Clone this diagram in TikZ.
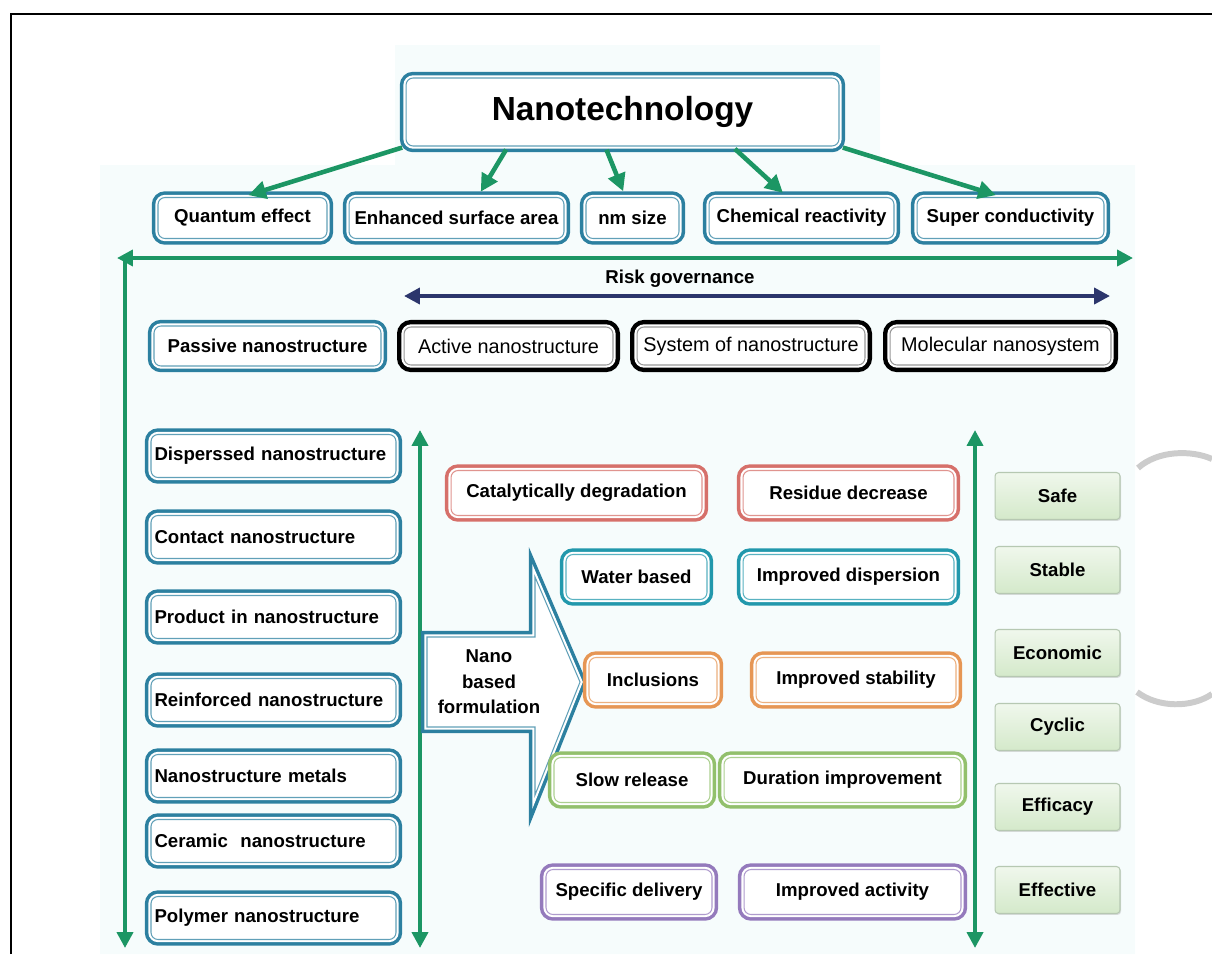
\documentclass[tikz,border=0pt]{standalone}
\usepackage{fontspec}
\setmainfont{Liberation Sans}
\usetikzlibrary{arrows.meta,calc,shadows}

\definecolor{nanoteal}{RGB}{44,128,160}
\definecolor{waterteal}{RGB}{34,152,172}
\definecolor{degred}{RGB}{214,112,106}
\definecolor{stabor}{RGB}{230,150,84}
\definecolor{slowgreen}{RGB}{146,192,108}
\definecolor{actpurple}{RGB}{148,122,188}
\definecolor{arrowgreen}{RGB}{28,150,100}
\definecolor{riskblue}{RGB}{44,54,108}
\definecolor{goodfill}{RGB}{212,233,202}
\definecolor{goodline}{RGB}{182,200,178}
\definecolor{bgtint}{RGB}{246,252,252}

\tikzset{
    dbox/.style={fill=white, draw=#1!75, line width=0.6pt, rounded corners=4pt,
        preaction={draw=#1, line width=7pt},
        preaction={draw=white, line width=3pt},
        inner sep=2pt, font=\bfseries\fontsize{10.6}{12.7}\selectfont},
    bbox/.style={fill=white, draw=gray!80, line width=0.6pt, rounded corners=4pt,
        preaction={draw=black, line width=8pt},
        preaction={draw=white, line width=3pt},
        inner sep=2pt, minimum height=0.76cm, font=\fontsize{11.3}{13}\selectfont},
    prop/.style={dbox=nanoteal, minimum height=0.82cm},
    lbox/.style={dbox=nanoteal, text width=4.76cm, align=left, minimum height=0.86cm},
    mbox/.style={dbox=#1, minimum height=0.9cm},
    goodbox/.style={draw=goodline, line width=0.6pt, rounded corners=2pt,
        top color=white!65!goodfill, bottom color=goodfill,
        drop shadow={opacity=0.25, shadow xshift=0.6pt, shadow yshift=-0.8pt},
        minimum width=2.5cm, minimum height=0.94cm,
        font=\bfseries\fontsize{10.6}{12.7}\selectfont},
    gtip/.tip={Triangle[length=9pt, width=9pt]},
    garrow/.style={draw=arrowgreen, line width=2.6pt, -{Triangle[length=10pt, width=10pt]},
        shorten <=2pt, shorten >=3.5pt},
    gline/.style={draw=arrowgreen, line width=2.2pt},
}

\begin{document}
\begin{tikzpicture}[x=0.02cm, y=-0.02cm]
    \useasboundingbox (0,0) rectangle (1212,954);

    % Frame and backdrop
    \fill[bgtint] (395,45) -- (880,45) -- (880,165) -- (1135,165) -- (1135,954)
        -- (100,954) -- (100,165) -- (395,165) -- cycle;
    \draw[line width=1.2pt] (11,954) -- (11,14) -- (1212,14);

    % Title and properties
    \node[dbox=nanoteal, font=\bfseries\fontsize{19}{22}\selectfont,
        minimum width=8.66cm, minimum height=1.36cm] (nano) at (622.5,112) {Nanotechnology};
    \node[prop, minimum width=3.38cm] (quantum) at (242.5,218) {Quantum effect};
    \node[prop, minimum width=4.3cm] (surface) at (456.5,218) {Enhanced surface area};
    \node[prop, minimum width=1.86cm] (nmsize) at (632.5,218) {nm size};
    \node[prop, minimum width=3.7cm] (chem) at (801.5,218) {Chemical reactivity};
    \node[prop, minimum width=3.74cm] (super) at (1010.5,218) {Super conductivity};

    \draw[garrow] (nano.south west) -- (quantum.north);
    \draw[garrow] ($(nano.south west)!0.236!(nano.south east)$) -- ([xshift=12]surface.north);
    \draw[garrow] ($(nano.south west)!0.46!(nano.south east)$) -- ([xshift=-4]nmsize.north);
    \draw[garrow] ($(nano.south west)!0.753!(nano.south east)$) -- ([xshift=-8]chem.north);
    \draw[garrow] (nano.south east) -- ([xshift=-5]super.north);

    % Green frame arrows
    \coordinate (gleft) at (117,258);
    \coordinate (gcorner) at (125,258);
    \coordinate (gright) at (1133,258);
    \coordinate (gbottom) at (125,948);
    \draw[gline, gtip-gtip] (gleft) -- (gright);
    \draw[gline, -gtip] (gcorner) -- (gbottom);

    % Risk governance
    \node[font=\bfseries\fontsize{10.6}{12.7}\selectfont] (risk) at (680,279) {Risk governance};
    \coordinate (rleft) at (404,296);
    \coordinate (rright) at (1110,296);
    \draw[draw=riskblue, line width=2.2pt, gtip-gtip] (rleft) -- (rright);

    \node[dbox=nanoteal, minimum width=4.54cm, minimum height=0.8cm] (passive) at (267.5,346) {Passive nanostructure};
    \node[bbox, minimum width=4.18cm] (active) at (508.5,346) {Active nanostructure};
    \node[bbox, minimum width=4.56cm] (system) at (751,346) {System of nanostructure};
    \node[bbox, minimum width=4.42cm] (molecular) at (1000.5,346) {Molecular nanosystem};

    % Nanostructure column
    \foreach \yy/\nm/\txt in {456/dispersed/{Disperssed nanostructure},
            537/contact/{Contact nanostructure}, 617/product/{Product in nanostructure},
            700/reinforced/{Reinforced nanostructure}, 776/metals/{Nanostructure metals},
            841/ceramic/{Ceramic~ nanostructure}, 918/polymer/{Polymer nanostructure}} {
        \node[lbox] (\nm) at (273.5,\yy) {\txt};
    }
    \coordinate (ltop) at (420,430);
    \coordinate (lbot) at (420,948);
    \draw[gline, gtip-gtip] (ltop) -- (lbot);

    % Formulation arrow
    \draw[fill=white, draw=nanoteal!75, line width=0.6pt,
        preaction={draw=nanoteal, line width=7pt},
        preaction={draw=white, line width=3pt}]
        (427,637) -- (535,637) -- (535,577) -- (580,682) -- (535,795) -- (535,727) -- (427,727) -- cycle;
    \node[align=center, font=\bfseries\fontsize{10.6}{14.5}\selectfont] (formula) at (489,682)
        {Nano\\based\\formulation};

    % Formulation benefits
    \node[mbox=degred, minimum width=5.02cm] (catal) at (576.5,493) {Catalytically degradation};
    \node[mbox=degred, minimum width=4.22cm] (residue) at (848.5,493) {Residue decrease};
    \node[mbox=waterteal, minimum width=2.82cm] (water) at (636.5,577) {Water based};
    \node[mbox=waterteal, minimum width=4.22cm] (dispersion) at (848.5,577) {Improved dispersion};
    \node[mbox=stabor, minimum width=2.56cm] (inclusions) at (653,680) {Inclusions};
    \node[mbox=stabor, minimum width=4.0cm] (stability) at (856,680) {Improved stability};
    \node[mbox=slowgreen, minimum width=3.12cm] (slow) at (632,780) {Slow release};
    \node[mbox=slowgreen, minimum width=4.74cm] (duration) at (842.5,780) {Duration improvement};
    \node[mbox=actpurple, minimum width=3.32cm] (delivery) at (629,892) {Specific delivery};
    \node[mbox=actpurple, minimum width=4.34cm] (activity) at (852.5,892) {Improved activity};

    \coordinate (rtop) at (975,430);
    \coordinate (rbot) at (975,948);
    \draw[gline, gtip-gtip] (rtop) -- (rbot);

    % Outcomes
    \foreach \yy/\nm/\txt in {496/safe/Safe, 570/stable/Stable, 653/economic/Economic,
            727/cyclic/Cyclic, 807/efficacy/Efficacy, 890/effective/Effective} {
        \node[goodbox] (\nm) at (1057.5,\yy) {\txt};
    }

    % Gray arcs
    \draw[gray!40, line width=3.4pt] (1138,468) .. controls (1158,450) and (1192,450) .. (1212,459);
    \draw[gray!40, line width=3.4pt] (1137,692) .. controls (1158,708) and (1192,708) .. (1212,694);
\end{tikzpicture}
\end{document}
